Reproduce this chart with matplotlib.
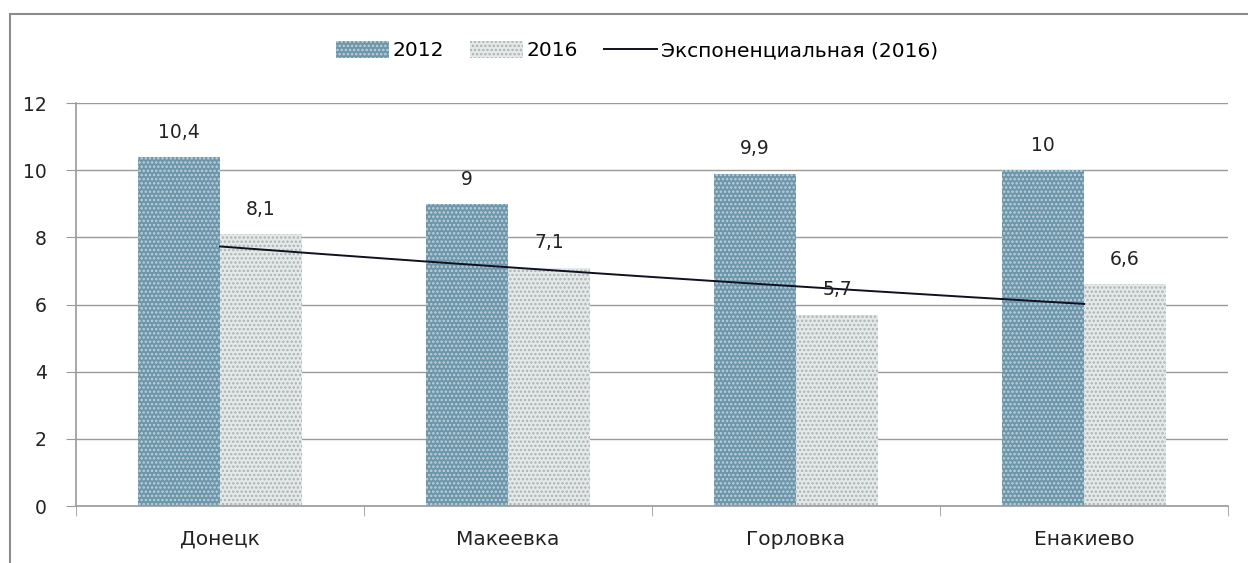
import numpy as np
import matplotlib.pyplot as plt
import matplotlib as mpl
from matplotlib import patches

cities = ['Донецк', 'Макеевка', 'Горловка', 'Енакиево']
vals_2012 = [10.4, 9, 9.9, 10]
vals_2016 = [8.1, 7.1, 5.7, 6.6]
labels_2012 = ['10,4', '9', '9,9', '10']
labels_2016 = ['8,1', '7,1', '5,7', '6,6']

mpl.rcParams['font.family'] = ['DejaVu Sans']
mpl.rcParams['font.size'] = 13.5
mpl.rcParams['hatch.linewidth'] = 1.2

grid_col = '#9a9a9a'
blue = '#6d96aa'
light = '#e6e9e9'

fig = plt.figure(figsize=(12.48, 5.63), dpi=100)
ax = fig.add_axes([0.0609, 0.1012, 0.9231, 0.7158])

x = np.arange(1, len(cities) + 1)
w = 0.285

b12 = ax.bar(x - w / 2, vals_2012, width=w, facecolor=blue, edgecolor='#bcd2dc',
             hatch='....', linewidth=0, label='2012', zorder=2)
b16 = ax.bar(x + w / 2, vals_2016, width=w, facecolor=light, edgecolor='#aab3b3',
             hatch='....', linewidth=0, label='2016', zorder=2)

# exponential trend for 2016, fitted on log values
b, a = np.polyfit(x, np.log(vals_2016), 1)
xt = np.linspace(x[0], x[-1], 200)
trend, = ax.plot(xt, np.exp(a + b * xt), color='#101020', lw=1.4, zorder=3,
                 label='Экспоненциальная (2016)')

for xi, v, s in zip(x, vals_2012, labels_2012):
    ax.text(xi - w / 2, v + 0.45, s, ha='center', va='bottom', color='#222222')
for xi, v, s in zip(x, vals_2016, labels_2016):
    ax.text(xi + w / 2, v + 0.45, s, ha='center', va='bottom', color='#222222')

ax.set_xlim(0.5, 4.5)
ax.set_ylim(0, 12)
ax.set_yticks(range(0, 13, 2))
ax.set_xticks(x)
ax.set_xticklabels(cities, fontsize=14.5)
ax.set_xticks(np.arange(0.5, 4.6, 1), minor=True)
ax.tick_params(axis='x', which='major', length=0, pad=17, colors='#222222')
ax.tick_params(axis='x', which='minor', length=7, color=grid_col)
ax.tick_params(axis='y', length=7, color=grid_col, pad=14, colors='#222222')
ax.yaxis.grid(True, color=grid_col, lw=1, zorder=0)
ax.set_axisbelow(True)
for s in ['top', 'right']:
    ax.spines[s].set_visible(False)
for s in ['left', 'bottom']:
    ax.spines[s].set_color(grid_col)
    ax.spines[s].set_linewidth(1.2)

ax.legend(handles=[b12, b16, trend], loc='center', bbox_to_anchor=(0.487, 1.13),
          ncol=3, frameon=False, handlelength=2.6, handleheight=0.9,
          handletextpad=0.2, columnspacing=1.3, fontsize=14.5)

# outer chart frame
fig.patches.append(patches.Rectangle((10 / 1248, -0.05), 1.2, 1 - 14 / 563 + 0.05,
                                     transform=fig.transFigure, fill=False,
                                     edgecolor='#8c8c8c', lw=1.5))

fig.savefig('out.png', dpi=100)
